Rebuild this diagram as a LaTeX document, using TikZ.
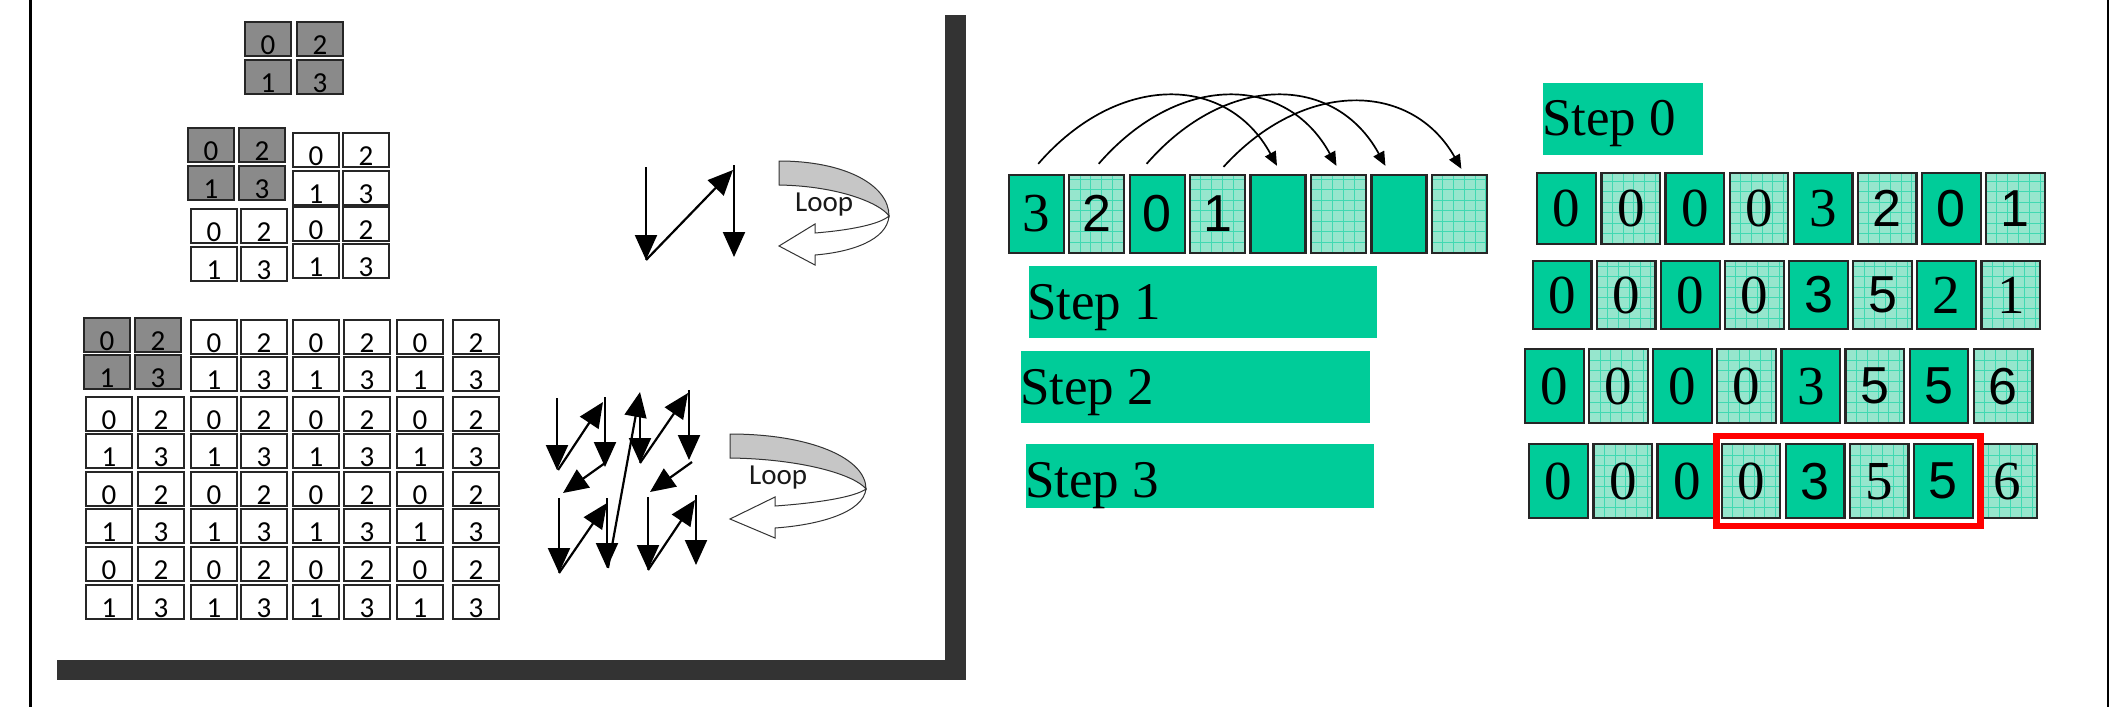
\documentclass[tikz,border=0pt]{standalone}
\usepackage{fontspec}
\setmainfont{Liberation Serif}
\newfontfamily\arialf{Liberation Sans}
\newfontfamily\calib{Carlito}
\usetikzlibrary{arrows.meta}
\definecolor{tgreen}{HTML}{00CC99}
\definecolor{lgreen}{HTML}{96E6CD}
\definecolor{shadowc}{HTML}{333333}
\definecolor{cgray}{HTML}{8A8A8A}
\newcommand\sdig{\fontsize{55}{55}\selectfont}
\newcommand\adig{\arialf\fontsize{52}{52}\selectfont}
\newcommand\lcell[5]{%
  \node[#2] (#1) at (#3+23,#4+17) {};
  \node[ldigit] at ([yshift=2pt]#1.south) {#5};
}
\newcommand\boxrow[8]{% #1 prefix, #2 x0, #3 yc, #4 w, #5 h, #6 pitch, #7 list, #8 unused
  \foreach \f/\d [count=\i from 0] in {#7} {
    \ifodd\i \def\cf{lgreen}\def\gc{tgreen!75}\else\def\cf{tgreen}\def\gc{tgreen}\fi
    \node[cellbox, fill=\cf, minimum width=#4pt, minimum height=#5pt,
          font=\csname\f dig\endcsname]
      (#1\i) at (#2+\i*#6+#4/2,#3) {\d};
  }
}
\begin{document}
\begin{tikzpicture}[x=1pt,y=-1pt,
  lcell/.style={rectangle, inner sep=0pt, draw=black!85, line width=1.7pt,
    fill=white, minimum width=46pt, minimum height=34pt},
  gcell/.style={lcell, fill=cgray},
  ldigit/.style={anchor=base, inner sep=0pt, text=black,
    font=\calib\fontsize{29}{29}\selectfont},
  larrow/.style={line width=2.2pt, -{Triangle[length=25pt,width=22pt]}},
  carrow/.style={line width=1.7pt, -{Triangle[length=14pt,width=12pt]}},
  cellbox/.style={rectangle, inner sep=0pt, draw=black!85, line width=2.2pt,
    path picture={
      \foreach \k in {1,...,8}{
        \draw[\gc, line width=0.8pt]
          ([xshift=\k*10.8pt]path picture bounding box.south west) --
          ([xshift=\k*10.8pt]path picture bounding box.north west);
        \draw[\gc, line width=0.8pt]
          ([yshift=\k*10.5pt]path picture bounding box.south west) --
          ([yshift=\k*10.5pt]path picture bounding box.south east);
      }}},
  steprect/.style={rectangle, fill=tgreen, inner sep=0pt},
  steptext/.style={anchor=base west, inner sep=0pt, font=\fontsize{53}{53}\selectfont},
  looptext/.style={anchor=base west, inner sep=0pt, text=black!90,
    font=\calib\fontsize{29}{29}\selectfont},
  ribbon/.style={draw=black!80, line width=1pt}
]
\useasboundingbox (0,0) rectangle (2116,707);
\fill[white] (0,0) rectangle (2116,707);

% outer frame lines
\draw[line width=3pt] (30.5,0) -- (30.5,707);
\draw[line width=2.5pt] (2108,0) -- (2108,707);

% shadow of the left panel
\fill[shadowc] (945,15) rectangle (966,680);
\fill[shadowc] (57,660) rectangle (966,680);

% ---- grid 1 (2x2) ----
\lcell{a1}{gcell}{245}{22}{0}
\lcell{a2}{gcell}{297}{22}{2}
\lcell{a3}{gcell}{245}{60}{1}
\lcell{a4}{gcell}{297}{60}{3}

% ---- grid 2 (4x4) ----
\lcell{b11}{gcell}{188}{128}{0}
\lcell{b12}{gcell}{239}{128}{2}
\lcell{b21}{gcell}{188}{166}{1}
\lcell{b22}{gcell}{239}{166}{3}
\lcell{b13}{lcell}{293}{133}{0}
\lcell{b14}{lcell}{343}{133}{2}
\lcell{b23}{lcell}{293}{171}{1}
\lcell{b24}{lcell}{343}{171}{3}
\lcell{b31}{lcell}{191}{209}{0}
\lcell{b32}{lcell}{241}{209}{2}
\lcell{b41}{lcell}{191}{247}{1}
\lcell{b42}{lcell}{241}{247}{3}
\lcell{b33}{lcell}{293}{207}{0}
\lcell{b34}{lcell}{343}{207}{2}
\lcell{b43}{lcell}{293}{244}{1}
\lcell{b44}{lcell}{343}{244}{3}

% ---- grid 3 (8x8) ----
\foreach \r/\ry in {1/320,2/357,3/397,4/434,5/472,6/509,7/547,8/585}{
  \foreach \c/\cx in {1/86,2/138,3/191,4/241,5/293,6/344,7/397,8/453}{
    \pgfmathtruncatemacro\dg{2*(1-mod(\c,2))+(1-mod(\r,2))}
    \pgfmathtruncatemacro\isgray{and(\r<3,\c<3)}
    \ifnum\isgray=0
      \lcell{c\r\c}{lcell}{\cx}{\ry}{\dg}
    \fi
  }
}
\lcell{c11}{gcell}{84}{318}{0}
\lcell{c12}{gcell}{135}{318}{2}
\lcell{c21}{gcell}{84}{355}{1}
\lcell{c22}{gcell}{135}{355}{3}

% ---- arrows, top group ----
\draw[larrow] (646,167) -- (646,260);
\draw[larrow] (646,260) -- (733,170);
\draw[larrow] (734,165) -- (734,257);

% ---- arrows, bottom group ----
\draw[larrow] (557,398) -- (557,470);
\draw[larrow] (558,470) -- (603,402);
\draw[larrow] (605,397) -- (605,467);
\draw[larrow] (605,463) -- (563,493);
\draw[larrow] (559,498) -- (559,573);
\draw[larrow] (559,573) -- (607,503);
\draw[larrow] (607,498) -- (607,568);
\draw[larrow] (608,568) -- (640,392);
\draw[larrow] (640,397) -- (640,463);
\draw[larrow] (640,463) -- (688,393);
\draw[larrow] (689,390) -- (689,460);
\draw[larrow] (692,462) -- (650,492);
\draw[larrow] (648,497) -- (648,570);
\draw[larrow] (648,570) -- (695,500);
\draw[larrow] (696,495) -- (696,565);

% ---- loop ribbon 1 ----
\filldraw[ribbon, fill=gray!45] (779,161) .. controls (845,161) and (889,185) .. (889,216)
  .. controls (880,203) and (838,186) .. (779,185) -- cycle;
\filldraw[ribbon, fill=white] (889,216) .. controls (887,240) and (852,252) .. (815,255)
  -- (815,265) -- (779,246) -- (815,224) -- (815,233)
  .. controls (852,230) and (880,224) .. (889,216) -- cycle;
\node[looptext] (loop1) at (795,211) {Loop};

% ---- loop ribbon 2 ----
\filldraw[ribbon, fill=gray!45] (730,434) .. controls (810,434) and (866,458) .. (866,489)
  .. controls (855,475) and (803,459) .. (730,458) -- cycle;
\filldraw[ribbon, fill=white] (866,489) .. controls (863,513) and (818,525) .. (775,528)
  -- (775,538) -- (730,519) -- (775,497) -- (775,506)
  .. controls (818,503) and (855,497) .. (866,489) -- cycle;
\node[looptext] (loop2) at (749,484) {Loop};

% ---- top array ----
\boxrow{t}{1008.7}{213.8}{55}{77.7}{60.45}{s/3,a/2,a/0,a/1,s/{},s/{},s/{},s/{}}{}

\draw[carrow] ([xshift=2pt,yshift=10pt]t0.north) .. controls +(80,-92) and +(-50,-92) .. ([xshift=-1pt,yshift=8pt]t4.north);
\draw[carrow] ([xshift=2pt,yshift=10pt]t1.north) .. controls +(80,-92) and +(-50,-92) .. ([xshift=-2pt,yshift=8pt]t5.north);
\draw[carrow] ([xshift=-10.5pt,yshift=10pt]t2.north) .. controls +(80,-92) and +(-50,-92) .. ([xshift=-13.5pt,yshift=8pt]t6.north);
\draw[carrow] ([xshift=6pt,yshift=7pt]t3.north) .. controls +(80,-88) and +(-50,-88) .. ([xshift=2pt,yshift=5pt]t7.north);

% ---- step labels ----
\node[steprect, minimum width=348pt, minimum height=72pt] (st1) at (1203,302) {};
\node[steptext] at (1027,319) {Step 1};
\node[steprect, minimum width=349pt, minimum height=72pt] (st2) at (1195.5,387) {};
\node[steptext] at (1020,404) {Step 2};
\node[steprect, minimum width=348pt, minimum height=64pt] (st3) at (1200,476) {};
\node[steptext] at (1025,497) {Step 3};
\node[steprect, minimum width=160pt, minimum height=72pt] (st0) at (1623,119) {};
\node[steptext] at (1542,135) {Step 0};

% ---- right rows ----
\boxrow{p}{1537.3}{208.7}{58.7}{70.7}{64.1}{s/0,s/0,s/0,s/0,s/3,a/2,a/0,a/1}{}
\boxrow{q}{1532.7}{295}{58.7}{68}{64.1}{s/0,s/0,s/0,s/0,a/3,a/5,s/2,s/1}{}
\boxrow{r}{1525}{386.3}{58.7}{74}{64.1}{s/0,s/0,s/0,s/0,s/3,a/5,a/5,a/6}{}
\boxrow{u}{1529.3}{481.3}{58.7}{74}{64.1}{s/0,s/0,s/0,s/0,a/3,s/5,a/5,s/6}{}

% red highlight
\draw[red, line width=6.7pt] (1716.7,436) rectangle (1980.3,526);
\end{tikzpicture}
\end{document}
